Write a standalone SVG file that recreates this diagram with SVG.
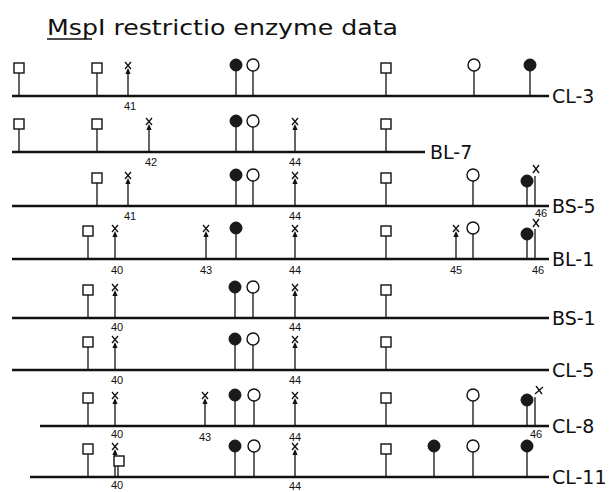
<svg xmlns="http://www.w3.org/2000/svg" width="613" height="492" viewBox="0 0 613 492">
  <style>
    .map { stroke: #111; stroke-width: 2.6; }
    .stem { stroke: #111; stroke-width: 1.3; fill: none; }
    .box { fill: #fff; stroke: #111; stroke-width: 1.4; }
    .open { fill: #fff; stroke: #111; stroke-width: 1.4; }
    .full { fill: #1a1a1a; stroke: #111; stroke-width: 1; }
    .lbl { font-family: "DejaVu Sans", "Liberation Sans", sans-serif; font-size: 19px; fill: #111; }
    .num { font-family: "Liberation Sans", sans-serif; font-size: 11px; fill: #111; }
    .title { font-family: "DejaVu Sans", "Liberation Sans", sans-serif; font-size: 22px; fill: #111; }
  </style>
  <defs>
    <!-- site symbols; origin sits on the map line -->
    <g id="sq">
      <line class="stem" x1="0" y1="-23" x2="0" y2="0"/>
      <rect class="box" x="-5" y="-33" width="10" height="10"/>
    </g>
    <g id="fc">
      <line class="stem" x1="0" y1="-25" x2="0" y2="0"/>
      <circle class="full" cx="0" cy="-31" r="6"/>
    </g>
    <g id="oc">
      <line class="stem" x1="0" y1="-25" x2="0" y2="0"/>
      <circle class="open" cx="0" cy="-31" r="6"/>
    </g>
    <g id="xa">
      <line class="stem" x1="0" y1="-26" x2="0" y2="0"/>
      <path d="M0,-28 L-2.6,-22 L2.6,-22 Z" fill="#111"/>
      <path class="stem" d="M-3,-34 L3,-27 M3,-34 L-3,-27"/>
    </g>
  </defs>

  <!-- heading -->
  <g id="title">
    <text class="title" x="47" y="35" textLength="351" lengthAdjust="spacingAndGlyphs">MspI restrictio enzyme data</text>
    <line x1="47" y1="39" x2="92" y2="39" stroke="#111" stroke-width="1.4"/>
  </g>

  <g id="CL-3">
    <line class="map" x1="12" y1="96" x2="549" y2="96"/>
    <use href="#sq" x="19" y="96"/>
    <use href="#sq" x="97" y="96"/>
    <use href="#xa" x="128" y="96"/>
    <use href="#fc" x="236" y="96"/>
    <use href="#oc" x="253" y="96"/>
    <use href="#sq" x="386" y="96"/>
    <use href="#oc" x="474" y="96"/>
    <use href="#fc" x="530" y="96"/>
    <text class="num" x="124" y="110">41</text>
    <text class="lbl" x="552" y="103">CL-3</text>
  </g>

  <g id="BL-7">
    <line class="map" x1="12" y1="152" x2="425" y2="152"/>
    <use href="#sq" x="19" y="152"/>
    <use href="#sq" x="97" y="152"/>
    <use href="#xa" x="149" y="152"/>
    <use href="#fc" x="236" y="152"/>
    <use href="#oc" x="253" y="152"/>
    <use href="#xa" x="295" y="152"/>
    <use href="#sq" x="386" y="152"/>
    <text class="num" x="145" y="166">42</text>
    <text class="num" x="289" y="166">44</text>
    <text class="lbl" x="430" y="159">BL-7</text>
  </g>

  <g id="BS-5">
    <line class="map" x1="12" y1="206" x2="549" y2="206"/>
    <use href="#sq" x="97" y="206"/>
    <use href="#xa" x="128" y="206"/>
    <use href="#fc" x="236" y="206"/>
    <use href="#oc" x="253" y="206"/>
    <use href="#xa" x="295" y="206"/>
    <use href="#sq" x="386" y="206"/>
    <use href="#oc" x="473" y="206"/>
    <line class="stem" x1="527" y1="186" x2="527" y2="206"/>
    <circle class="full" cx="527" cy="181" r="6"/>
    <line class="stem" x1="535" y1="176" x2="535" y2="206"/>
    <path class="stem" d="M533,165 L539,173 M539,165 L533,173"/>
    <text class="num" x="124" y="220">41</text>
    <text class="num" x="289" y="220">44</text>
    <text class="num" x="535" y="217">46</text>
    <text class="lbl" x="552" y="213">BS-5</text>
  </g>

  <g id="BL-1">
    <line class="map" x1="12" y1="259" x2="549" y2="259"/>
    <use href="#sq" x="88" y="259"/>
    <use href="#xa" x="115" y="259"/>
    <use href="#xa" x="206" y="259"/>
    <use href="#fc" x="236" y="259"/>
    <use href="#xa" x="295" y="259"/>
    <use href="#sq" x="386" y="259"/>
    <use href="#xa" x="456" y="259"/>
    <use href="#oc" x="473" y="259"/>
    <line class="stem" x1="527" y1="240" x2="527" y2="259"/>
    <circle class="full" cx="527" cy="234" r="6"/>
    <line class="stem" x1="535" y1="229" x2="535" y2="259"/>
    <path class="stem" d="M533,219 L539,227 M539,219 L533,227"/>
    <text class="num" x="111" y="274">40</text>
    <text class="num" x="200" y="274">43</text>
    <text class="num" x="289" y="274">44</text>
    <text class="num" x="450" y="274">45</text>
    <text class="num" x="532" y="274">46</text>
    <text class="lbl" x="552" y="266">BL-1</text>
  </g>

  <g id="BS-1">
    <line class="map" x1="12" y1="318" x2="549" y2="318"/>
    <use href="#sq" x="88" y="318"/>
    <use href="#xa" x="115" y="318"/>
    <use href="#fc" x="235" y="318"/>
    <use href="#oc" x="253" y="318"/>
    <use href="#xa" x="295" y="318"/>
    <use href="#sq" x="386" y="318"/>
    <text class="num" x="111" y="331">40</text>
    <text class="num" x="289" y="331">44</text>
    <text class="lbl" x="552" y="325">BS-1</text>
  </g>

  <g id="CL-5">
    <line class="map" x1="12" y1="370" x2="549" y2="370"/>
    <use href="#sq" x="88" y="370"/>
    <use href="#xa" x="115" y="370"/>
    <use href="#fc" x="235" y="370"/>
    <use href="#oc" x="253" y="370"/>
    <use href="#xa" x="295" y="370"/>
    <use href="#sq" x="386" y="370"/>
    <text class="num" x="111" y="384">40</text>
    <text class="num" x="289" y="384">44</text>
    <text class="lbl" x="552" y="377">CL-5</text>
  </g>

  <g id="CL-8">
    <line class="map" x1="40" y1="426" x2="549" y2="426"/>
    <use href="#sq" x="88" y="426"/>
    <use href="#xa" x="115" y="426"/>
    <use href="#xa" x="205" y="426"/>
    <use href="#fc" x="235" y="426"/>
    <use href="#oc" x="254" y="426"/>
    <use href="#xa" x="295" y="426"/>
    <use href="#sq" x="386" y="426"/>
    <use href="#oc" x="473" y="426"/>
    <line class="stem" x1="527" y1="406" x2="527" y2="426"/>
    <circle class="full" cx="527" cy="400" r="6"/>
    <line class="stem" x1="535" y1="397" x2="535" y2="426"/>
    <path class="stem" d="M536,386 L542,394 M543,387 L535,394"/>
    <text class="num" x="111" y="438">40</text>
    <text class="num" x="199" y="441">43</text>
    <text class="num" x="289" y="441">44</text>
    <text class="num" x="530" y="438">46</text>
    <text class="lbl" x="552" y="433">CL-8</text>
  </g>

  <g id="CL-11">
    <line class="map" x1="30" y1="477" x2="549" y2="477"/>
    <use href="#sq" x="88" y="477"/>
    <use href="#xa" x="115" y="477"/>
    <line class="stem" x1="118" y1="466" x2="118" y2="477"/>
    <rect class="box" x="114" y="456" width="10" height="10"/>
    <use href="#fc" x="235" y="477"/>
    <use href="#oc" x="254" y="477"/>
    <use href="#xa" x="295" y="477"/>
    <use href="#sq" x="386" y="477"/>
    <use href="#fc" x="434" y="477"/>
    <use href="#oc" x="473" y="477"/>
    <use href="#fc" x="527" y="477"/>
    <text class="num" x="111" y="489">40</text>
    <text class="num" x="289" y="490">44</text>
    <text class="lbl" x="552" y="484">CL-11</text>
  </g>
</svg>
